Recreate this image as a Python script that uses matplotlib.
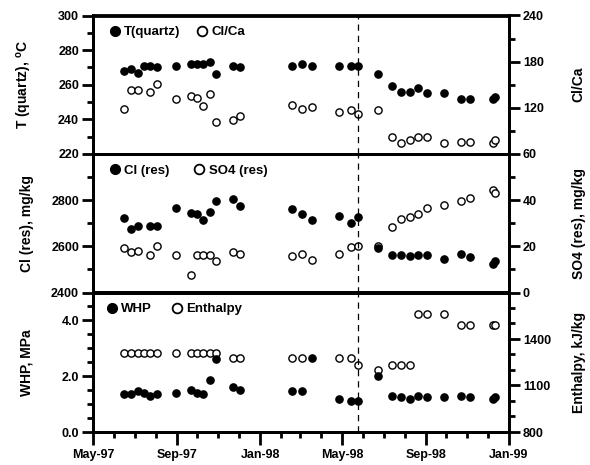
import matplotlib
matplotlib.use('Agg')
import matplotlib.pyplot as plt
import matplotlib.dates as mdates
import matplotlib.ticker as mticker
from matplotlib.lines import Line2D
import numpy as np
import pandas as pd

plt.rcParams['font.family'] = ['Liberation Sans', 'DejaVu Sans']
plt.rcParams['font.weight'] = 'bold'
plt.rcParams['mathtext.fontset'] = 'custom'
plt.rcParams['mathtext.rm'] = 'Liberation Sans:bold'

nan = np.nan

# sampling dates
dates = pd.to_datetime([
    '1997-06-16', '1997-06-25', '1997-07-06', '1997-07-15', '1997-07-24',
    '1997-08-03', '1997-08-30', '1997-09-22', '1997-09-30', '1997-10-09',
    '1997-10-20', '1997-10-29', '1997-11-23', '1997-12-03', '1998-02-17',
    '1998-03-03', '1998-03-18', '1998-04-26', '1998-05-14', '1998-05-25',
    '1998-06-23', '1998-07-13', '1998-07-26', '1998-08-09', '1998-08-20',
    '1998-09-03', '1998-09-28', '1998-10-22', '1998-11-05', '1998-12-09',
    '1998-12-11'])

t_quartz = [268, 269, 267, 271, 271, 270, 271, 272, 272, 272, 273, 266, 271,
            270, 271, 272, 271, 271, 271, 271, 266, 259, 256, 256, 258, 255,
            255, 252, 252, 252, 253]
cl_ca = [118.7, 142.7, 142.7, nan, 140.1, 151, 132, 135.9, 132.9, 123, 138,
         101.4, 104, 109.2, 123.4, 119.1, 120.8, 114.8, 117.8, 111.4, 117.8,
         82.1, 74, 77.8, 82.6, 82.6, 74.8, 76.1, 76.1, 74, 77.8]

cl_res = [2723, 2676, 2690, nan, 2690, 2690, 2764, 2746, 2742, 2713, 2748,
          2796, 2804, 2774, 2760, 2741, 2713, 2730, 2699, 2728, 2593, 2562,
          2562, 2556, 2561, 2561, 2546, 2568, 2554, 2525, 2535]
so4_res = [19.1, 17.6, 17.8, nan, 16.3, 20.3, 16.4, 7.4, 16.3, 16.3, 16.1,
           13.5, 17.6, 16.5, 15.7, 16.5, 14.2, 16.8, 19.9, 20, 20, 28.4, 32,
           32.8, 33.8, 36.4, 38, 39.5, 41, 44.3, 42.9]

whp = [1.35, 1.36, 1.46, 1.41, 1.30, 1.37, 1.41, 1.49, 1.38, 1.35, 1.85,
       2.61, 1.61, 1.50, 1.46, 1.48, 2.65, 1.17, 1.11, 1.12, 2.01, 1.29,
       1.26, 1.20, 1.29, 1.26, 1.26, 1.30, 1.26, 1.20, 1.24]
enthalpy = [1310, 1310, 1310, 1310, 1310, 1310, 1310, 1310, 1310, 1310, 1310,
            1310, 1275, 1275, 1275, 1275, nan, 1275, 1275, 1230, 1200, 1230,
            1230, 1230, 1560, 1560, 1560, 1490, 1490, 1490, 1490]

event_date = pd.Timestamp('1998-05-25')

panels = [
    dict(left=t_quartz, right=cl_ca,
         llab=r'T (quartz), $^{\mathrm{o}}$C', rlab='Cl/Ca',
         lname='T(quartz)', rname='Cl/Ca',
         llim=(220, 300), lmaj=np.arange(220, 301, 20), lmin=np.arange(230, 300, 20),
         rlim=(60, 240), rmaj=[60, 120, 180, 240], rmin=[90, 150, 210],
         lfmt='%d', legx=0.042, colsp=1.25, pad2=0.4),
    dict(left=cl_res, right=so4_res,
         llab='Cl (res), mg/kg', rlab='SO4 (res), mg/kg',
         lname='Cl (res)', rname='SO4 (res)',
         llim=(2400, 3000), lmaj=[2400, 2600, 2800], lmin=[2500, 2700, 2900],
         rlim=(0, 60), rmaj=[0, 20, 40], rmin=[10, 30, 50],
         lfmt='%d', legx=0.042, colsp=1.9, pad2=0.4),
    dict(left=whp, right=enthalpy,
         llab='WHP, MPa', rlab='Enthalpy, kJ/kg',
         lname='WHP', rname='Enthalpy',
         llim=(0, 5), lmaj=[0, 2, 4], lmin=[0.5, 1, 1.5, 2.5, 3, 3.5, 4.5],
         rlim=(800, 1700), rmaj=[800, 1100, 1400], rmin=[900, 1000, 1200, 1300, 1500, 1600],
         lfmt='%.1f', legx=0.035, colsp=1.5, pad2=0.9),
]

fig = plt.figure(figsize=(5.9, 4.65), dpi=100)
x0, w = 93 / 590, 416 / 590
edges = [1 - 15.5 / 465, 1 - 154 / 465, 1 - 292.5 / 465, 1 - 432 / 465]

ms = 5.2
for i, p in enumerate(panels):
    ax = fig.add_axes([x0, edges[i + 1], w, edges[i] - edges[i + 1]])
    ax2 = ax.twinx()
    ax.set_zorder(ax2.get_zorder() + 1)
    ax.patch.set_visible(False)

    ax.axvline(event_date, color='black', lw=0.9, ls=(0, (5, 4)), zorder=0)
    ax2.plot(dates, p['right'], 'o', ms=ms, mfc='white', mec='black', mew=1.0)
    ax.plot(dates, p['left'], 'o', ms=ms, mfc='black', mec='black', mew=1.0)

    ax.set_xlim(pd.Timestamp('1997-05-01'), pd.Timestamp('1999-01-01'))
    ax.set_ylim(*p['llim'])
    ax2.set_ylim(*p['rlim'])
    ax.set_yticks(p['lmaj'])
    ax.set_yticks(p['lmin'], minor=True)
    ax2.set_yticks(p['rmaj'])
    ax2.set_yticks(p['rmin'], minor=True)
    ax.yaxis.set_major_formatter(mticker.FormatStrFormatter(p['lfmt']))

    for a in (ax, ax2):
        for s in a.spines.values():
            s.set_linewidth(2)
        a.tick_params(axis='y', which='major', direction='out', length=8,
                      width=2, labelsize=9, pad=2)
        a.tick_params(axis='y', which='minor', direction='out', length=4.5,
                      width=2)

    ax.xaxis.set_major_locator(mdates.MonthLocator(bymonth=[1, 5, 9]))
    ax.xaxis.set_minor_locator(mdates.MonthLocator())
    ax.xaxis.set_major_formatter(mdates.DateFormatter('%b-%y'))
    if i < 2:
        ax.tick_params(axis='x', which='both', bottom=False, labelbottom=False)
    else:
        ax.tick_params(axis='x', which='major', direction='out', length=9,
                       width=2, labelsize=9, pad=3)
        ax.tick_params(axis='x', which='minor', direction='out', length=4,
                       width=2)
    ax2.tick_params(axis='x', which='both', bottom=False, labelbottom=False)

    ax.set_ylabel(p['llab'], fontsize=10, fontweight='bold')
    ax.yaxis.set_label_coords(-0.142, 0.5)
    ax2.set_ylabel(p['rlab'], fontsize=10, fontweight='bold')
    ax2.yaxis.set_label_coords(1.151, 0.5)

    handles = [Line2D([], [], ls='none', marker='o', ms=7, mfc='black', mec='black'),
               Line2D([], [], ls='none', marker='o', ms=7, mfc='white', mec='black', mew=1.3)]
    leg = ax.legend(handles, [p['lname'], p['rname']], ncol=2, frameon=False,
                    loc='center left', bbox_to_anchor=(p['legx'], 0.88),
                    borderpad=0, borderaxespad=0, handlelength=0.7,
                    handletextpad=0.35, columnspacing=p['colsp'],
                    prop={'size': 9.5, 'weight': 'bold'})

fig.savefig('out.png', dpi=100)
plt.close(fig)
